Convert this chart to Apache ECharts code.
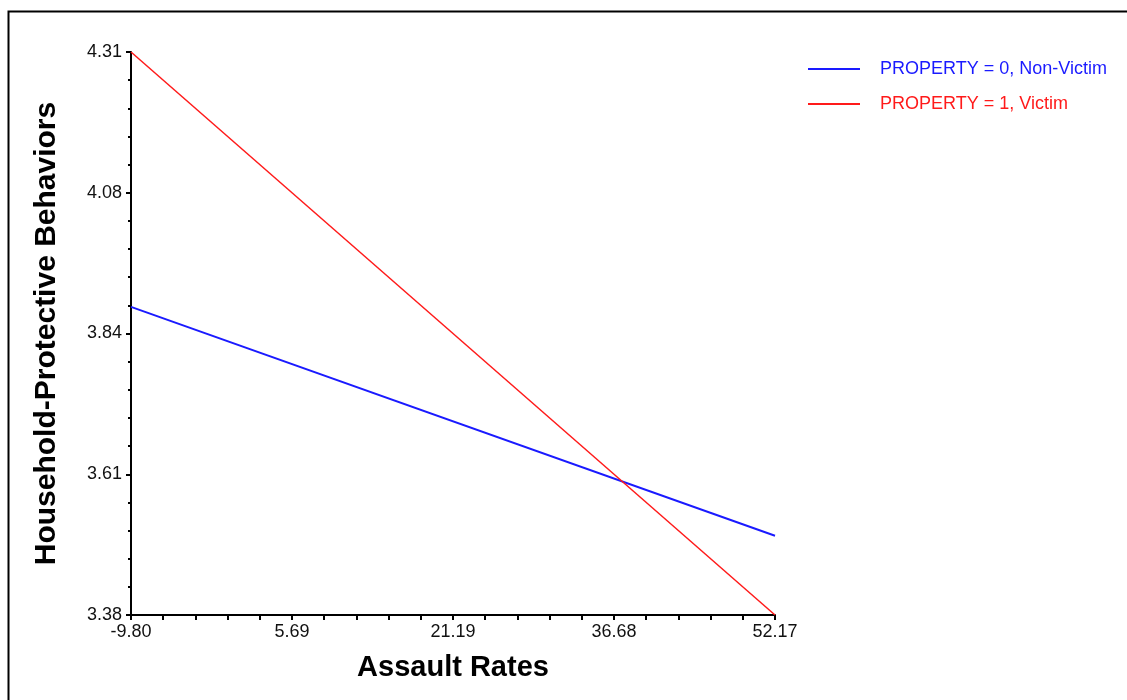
<!DOCTYPE html>
<html>
<head>
<meta charset="utf-8">
<script src="https://cdn.jsdelivr.net/npm/echarts@6/dist/echarts.min.js"></script>
<style>html,body{margin:0;padding:0;background:#fff;}#c{width:1127px;height:700px;}</style>
</head>
<body>
<div id="c"></div>
<script>
// Data
var xEnds = [-9.80, 52.17];
var nonVictim = [3.889, 3.511];
var victim = [4.31, 3.38];
var xTickLabels = ['-9.80', '5.69', '21.19', '36.68', '52.17'];
var xTickValues = [-9.80, 5.6925, 21.185, 36.6775, 52.17];
var yTickLabels = ['3.38', '3.61', '3.84', '4.08', '4.31'];
var yTickValues = [3.38, 3.6125, 3.845, 4.0775, 4.31];
var seriesNames = ['PROPERTY = 0, Non-Victim', 'PROPERTY = 1, Victim'];
var colors = ['#1a1aff', '#ff1a1a'];

function minors(vals) {
  var out = [];
  for (var i = 0; i < vals.length - 1; i++) {
    var step = (vals[i + 1] - vals[i]) / 5;
    for (var k = 1; k < 5; k++) out.push(vals[i] + step * k);
  }
  return out;
}
function lookup(vals, labels) {
  return function (v) {
    var best = 0, d = Infinity;
    for (var i = 0; i < vals.length; i++) {
      var dd = Math.abs(vals[i] - v);
      if (dd < d) { d = dd; best = i; }
    }
    return labels[best];
  };
}
var font = 'Liberation Sans, Arial, sans-serif';
var chart = echarts.init(document.getElementById('c'));
var xMin = xTickValues[0], xMax = xTickValues[xTickValues.length - 1];
var yMin = yTickValues[0], yMax = yTickValues[yTickValues.length - 1];
chart.setOption({
  animation: false,
  backgroundColor: '#fff',
  graphic: [{
    type: 'rect', left: 6, top: 9, shape: { width: 1300, height: 900 },
    style: { fill: 'none', stroke: '#000', lineWidth: 2 }, silent: true
  }],
  grid: { left: 131, right: 352, top: 52, bottom: 85, containLabel: false },
  legend: {
    orient: 'vertical', left: 808, top: 60, padding: 0, itemWidth: 52, itemHeight: 2, itemGap: 17,
    icon: 'rect',
    textStyle: { fontFamily: font, fontSize: 18, padding: [0, 0, 0, 15] },
    data: [
      { name: seriesNames[0], textStyle: { color: colors[0] } },
      { name: seriesNames[1], textStyle: { color: colors[1] } }
    ]
  },
  xAxis: [{
    type: 'value', min: xMin, max: xMax,
    name: 'Assault Rates', nameLocation: 'middle', nameGap: 38,
    nameTextStyle: { fontFamily: font, fontSize: 29, fontWeight: 'bold', color: '#000' },
    axisLine: { show: true, onZero: false, lineStyle: { color: '#000', width: 2 } },
    axisTick: { show: true, customValues: xTickValues, length: 5, lineStyle: { color: '#000', width: 2 } },
    axisLabel: { show: true, customValues: xTickValues, formatter: lookup(xTickValues, xTickLabels), margin: 8,
      fontFamily: font, fontSize: 18, color: '#111' },
    splitLine: { show: false }
  }, {
    type: 'value', min: xMin, max: xMax, position: 'bottom', offset: 0,
    axisLine: { show: false, onZero: false },
    axisTick: { show: true, customValues: minors(xTickValues), length: 5, lineStyle: { color: '#000', width: 2 } },
    axisLabel: { show: false }, splitLine: { show: false }
  }],
  yAxis: [{
    type: 'value', min: yMin, max: yMax,
    name: 'Household-Protective Behaviors', nameLocation: 'middle', nameGap: 69,
    nameTextStyle: { fontFamily: font, fontSize: 30, fontWeight: 'bold', color: '#000' },
    axisLine: { show: true, onZero: false, lineStyle: { color: '#000', width: 2 } },
    axisTick: { show: true, customValues: yTickValues, length: 5, lineStyle: { color: '#000', width: 2 } },
    axisLabel: { show: true, customValues: yTickValues, formatter: lookup(yTickValues, yTickLabels), margin: 9,
      fontFamily: font, fontSize: 18, color: '#111' },
    splitLine: { show: false }
  }, {
    type: 'value', min: yMin, max: yMax, position: 'left', offset: 0,
    axisLine: { show: false, onZero: false },
    axisTick: { show: true, customValues: minors(yTickValues), length: 3, lineStyle: { color: '#000', width: 2 } },
    axisLabel: { show: false }, splitLine: { show: false }
  }],
  series: [{
    name: seriesNames[0], type: 'line', showSymbol: false, symbol: 'none',
    data: [[xEnds[0], nonVictim[0]], [xEnds[1], nonVictim[1]]],
    lineStyle: { color: colors[0], width: 2 }, itemStyle: { color: colors[0] }
  }, {
    name: seriesNames[1], type: 'line', showSymbol: false, symbol: 'none',
    data: [[xEnds[0], victim[0]], [xEnds[1], victim[1]]],
    lineStyle: { color: colors[1], width: 1.5 }, itemStyle: { color: colors[1] }
  }]
});
</script>
</body>
</html>
